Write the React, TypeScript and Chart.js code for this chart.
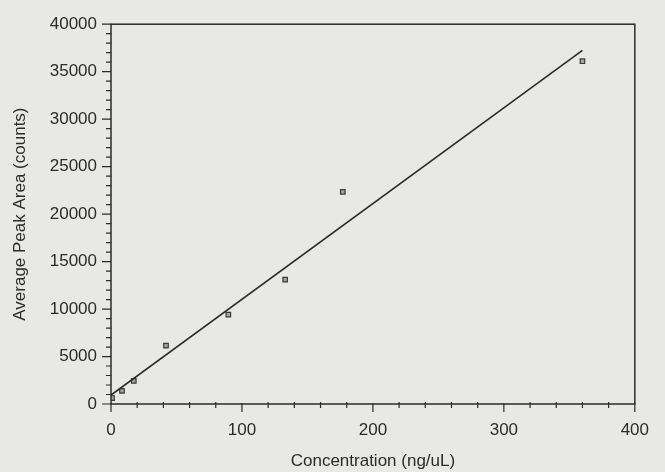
import React, { useEffect, useRef } from "react";
import { Chart, registerables } from "chart.js";

Chart.register(...registerables);

const concentration = [0.8, 8.4, 17.4, 42, 89.6, 133, 177, 360];
const peakArea = [630, 1390, 2440, 6140, 9420, 13090, 22340, 36100];
const fitX = [0, 360];
const fitY = [940, 37250];
const xTicks = [0, 100, 200, 300, 400];
const yTicks = [0, 5000, 10000, 15000, 20000, 25000, 30000, 35000, 40000];

const INK = "#2b2b2b";
const BG = "#e8e8e6";
const FONT = "'Liberation Sans', Arial, sans-serif";

const framePlugin = {
  id: "frame",
  beforeDraw(chart: any) {
    const { ctx, width, height } = chart;
    ctx.save();
    ctx.fillStyle = BG;
    ctx.fillRect(0, 0, width, height);
    ctx.restore();
  },
  afterDraw(chart: any) {
    const { ctx, chartArea } = chart;
    const xs = chart.scales.x;
    const ys = chart.scales.y;
    ctx.save();
    ctx.strokeStyle = INK;
    ctx.lineWidth = 1.5;
    ctx.strokeRect(chartArea.left, chartArea.top, chartArea.right - chartArea.left, chartArea.bottom - chartArea.top);
    ctx.lineWidth = 1.2;
    ctx.beginPath();
    for (let v = xs.min; v <= xs.max + 1e-6; v += 20) {
      const px = xs.getPixelForValue(v);
      const major = Math.abs(v % 100) < 1e-6;
      ctx.moveTo(px, chartArea.bottom - (major ? 1 : 2));
      ctx.lineTo(px, chartArea.bottom + (major ? 8 : 4));
    }
    for (let v = ys.min; v <= ys.max + 1e-6; v += 1000) {
      const py = ys.getPixelForValue(v);
      const major = Math.abs(v % 5000) < 1e-6;
      ctx.moveTo(chartArea.left, py);
      ctx.lineTo(chartArea.left - (major ? 9 : 5), py);
    }
    ctx.stroke();
    ctx.restore();
  },
};

export default function App() {
  const ref = useRef<HTMLCanvasElement | null>(null);
  useEffect(() => {
    document.body.style.margin = "0";
    const canvas = ref.current;
    if (!canvas) return;
    const chart = new Chart(canvas, {
      type: "scatter",
      data: {
        datasets: [
          {
            type: "line",
            label: "fit",
            data: fitX.map((x, i) => ({ x, y: fitY[i] })),
            borderColor: INK,
            borderWidth: 1.6,
            pointRadius: 0,
            fill: false,
          },
          {
            label: "data",
            data: concentration.map((x, i) => ({ x, y: peakArea[i] })),
            pointStyle: "rect",
            pointRadius: 3.2,
            backgroundColor: "#a3a3a1",
            borderColor: "#3a3a3a",
            borderWidth: 1.2,
          },
        ],
      } as any,
      options: {
        animation: false,
        responsive: false,
        devicePixelRatio: 1,
        layout: { padding: { left: 0, right: 18, top: 22, bottom: 0 } },
        plugins: { legend: { display: false }, tooltip: { enabled: false } },
        scales: {
          x: {
            type: "linear",
            min: 0,
            max: 400,
            afterBuildTicks: (s: any) => {
              s.ticks = xTicks.map((v) => ({ value: v }));
            },
            afterFit: (s: any) => {
              s.height = 68;
            },
            grid: { display: false, drawTicks: false },
            border: { display: false },
            ticks: {
              color: INK,
              font: { family: FONT, size: 17 },
              padding: 16,
              maxRotation: 0,
              callback: (v: any) => String(v),
            },
            title: {
              display: true,
              text: "Concentration (ng/uL)",
              color: INK,
              font: { family: FONT, size: 17 },
              padding: { top: 0, bottom: 0 },
            },
          },
          y: {
            type: "linear",
            min: 0,
            max: 40000,
            afterBuildTicks: (s: any) => {
              s.ticks = yTicks.map((v) => ({ value: v }));
            },
            afterFit: (s: any) => {
              s.width = 111;
            },
            grid: { display: false, drawTicks: false },
            border: { display: false },
            ticks: {
              color: INK,
              font: { family: FONT, size: 17 },
              padding: 14,
              callback: (v: any) => String(v),
            },
            title: {
              display: true,
              text: "Average Peak Area (counts)",
              color: INK,
              font: { family: FONT, size: 17 },
              padding: { top: 10, bottom: 0 },
            },
          },
        },
      } as any,
      plugins: [framePlugin],
    });
    return () => chart.destroy();
  }, []);
  return (
    <div style={{ position: "absolute", left: 0, top: 0, width: 665, height: 472 }}>
      <canvas ref={ref} width={665} height={472} style={{ width: 665, height: 472, display: "block" }} />
    </div>
  );
}
